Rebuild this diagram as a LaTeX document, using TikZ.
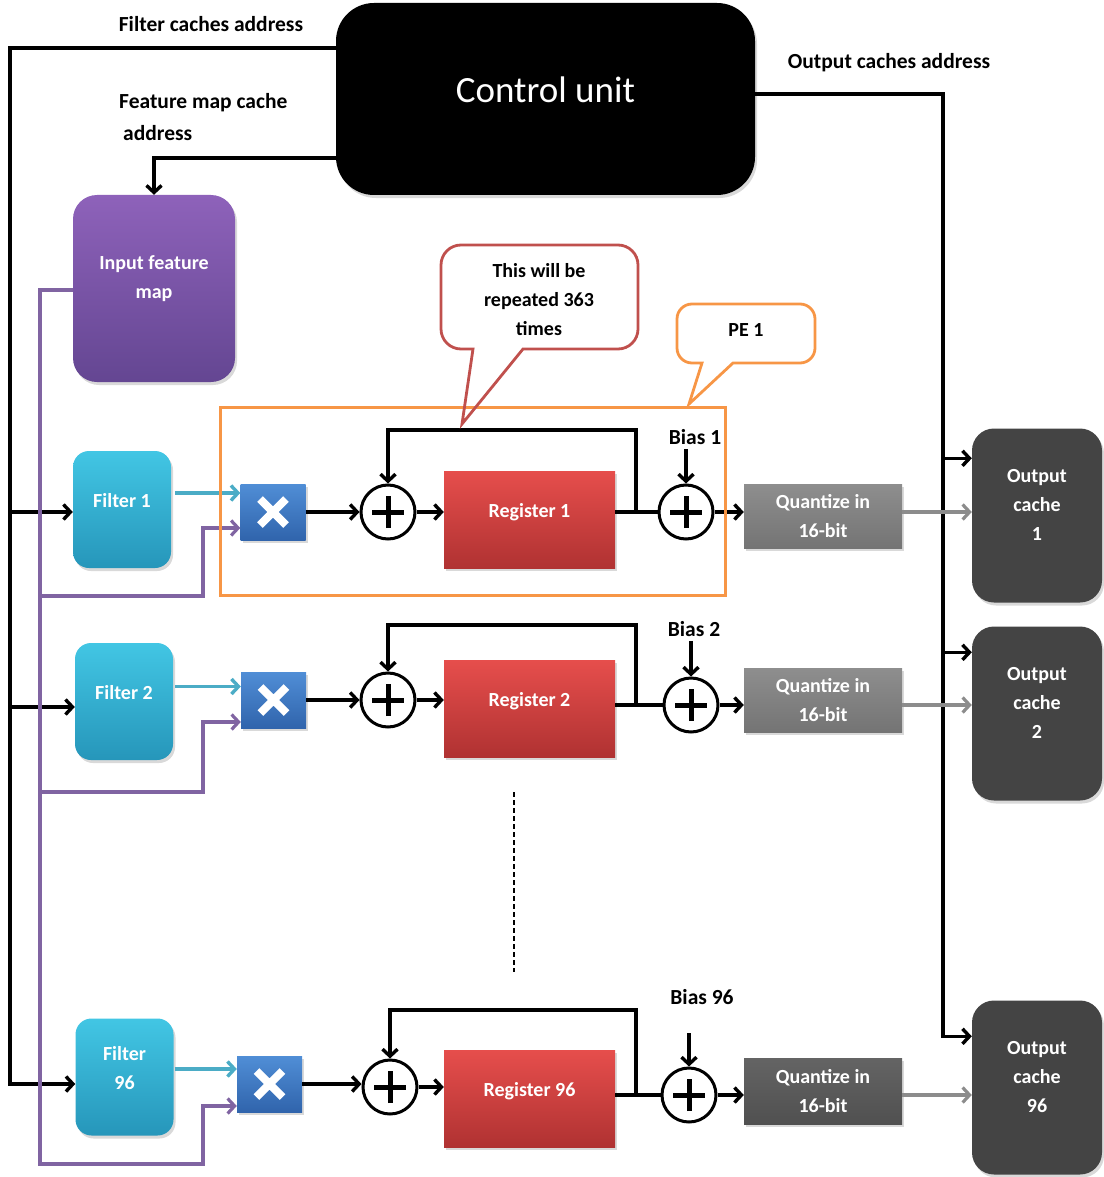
\documentclass[tikz,border=0pt]{standalone}
\usepackage{fontspec}
\setmainfont{Carlito}
\usetikzlibrary{arrows.meta,calc,shadows}

\definecolor{wirepurple}{RGB}{128,100,162}
\definecolor{wirecyan}{RGB}{75,172,198}
\definecolor{wiregray}{RGB}{140,140,140}
\definecolor{peorange}{RGB}{247,150,70}
\definecolor{callred}{RGB}{192,80,77}

\tikzset{
  shad/.style={drop shadow={opacity=0.3,shadow xshift=2pt,shadow yshift=-3pt}},
  txt/.style={font=\bfseries\fontsize{20}{29}\selectfont, text=white, align=center},
  lbl/.style={font=\bfseries\fontsize{21.5}{32}\selectfont, text=black, align=left, inner sep=0pt},
  cubox/.style={shad, fill=black, rounded corners=38pt, minimum width=419pt, minimum height=192pt,
    font=\fontsize{37}{44}\selectfont, text=white, text depth=18pt},
  ifmbox/.style={txt, shad, rounded corners=24pt, top color={rgb,255:red,142;green,98;blue,186},
    bottom color={rgb,255:red,100;green,70;blue,146}, minimum width=162pt, minimum height=187pt, text depth=22pt},
  filterbox/.style={txt, shad, rounded corners=16pt, top color={rgb,255:red,66;green,198;blue,228},
    bottom color={rgb,255:red,38;green,150;blue,186}, minimum width=98pt, minimum height=117pt, text depth=18pt},
  multbox/.style={shad, top color={rgb,255:red,80;green,142;blue,214}, bottom color={rgb,255:red,48;green,100;blue,172},
    minimum width=65pt, minimum height=56pt, inner sep=0pt,
    path picture={\draw[white, line width=8pt]
      ($(path picture bounding box.center)+(-13pt,-13pt)$) -- ($(path picture bounding box.center)+(13pt,13pt)$)
      ($(path picture bounding box.center)+(-13pt,13pt)$) -- ($(path picture bounding box.center)+(13pt,-13pt)$);}},
  adder/.style={circle, draw=black, line width=3pt, fill=white, minimum size=54pt, inner sep=0pt,
    path picture={\draw[black, line width=5pt]
      ($(path picture bounding box.center)+(-16pt,0pt)$) -- ($(path picture bounding box.center)+(16pt,0pt)$)
      ($(path picture bounding box.center)+(0pt,-16pt)$) -- ($(path picture bounding box.center)+(0pt,16pt)$);}},
  regbox/.style={txt, shad, top color={rgb,255:red,230;green,78;blue,76}, bottom color={rgb,255:red,176;green,50;blue,50},
    minimum width=171pt, minimum height=97pt, text depth=18pt},
  quantbox/.style={txt, shad, top color={rgb,255:red,142;green,142;blue,142}, bottom color={rgb,255:red,116;green,116;blue,116},
    minimum width=158pt, minimum height=64pt},
  quantdark/.style={txt, shad, top color={rgb,255:red,100;green,100;blue,100}, bottom color={rgb,255:red,80;green,80;blue,80},
    minimum width=158pt, minimum height=66pt},
  cachebox/.style={txt, shad, rounded corners=22pt, fill={rgb,255:red,68;green,68;blue,68},
    minimum width=130pt, minimum height=174pt, text depth=22pt},
  wire/.style={line width=3.4pt, black},
  tip/.style={-{Straight Barb[length=7pt,width=15pt]}},
  arr/.style={wire, tip},
  parr/.style={line width=3.2pt, wirepurple, tip},
  carr/.style={line width=3.4pt, wirecyan, tip},
  garr/.style={line width=3.2pt, wiregray, tip},
  calltxt/.style={font=\bfseries\fontsize{20}{29}\selectfont, text=black, align=center},
}

\begin{document}
\begin{tikzpicture}[x=1pt,y=-1pt]
\useasboundingbox (0,0) rectangle (1103,1177);

% ---------- control unit and address labels ----------
\node[cubox] (cu) at (545.5,99) {Control unit};
\node[lbl] (lfc) at (211,24) {Filter caches address};
\node[lbl, anchor=west] (lfm) at (119,117) {Feature map cache\\\hspace{4pt}address};
\node[lbl] (loc) at (889,63) {Output caches address};

% ---------- input feature map ----------
\node[ifmbox] (ifm) at (154,288.5) {Input feature\\map};

% ---------- row 1 ----------
\node[filterbox] (f1) at (122,509.5) {Filter 1};
\node[multbox] (m1) at (273,512) {};
\node[adder] (a1) at (388,512) {};
\node[regbox] (r1) at (529.5,519.5) {Register 1};
\node[adder] (b1) at (686,512) {};
\node[lbl] (bl1) at (695,437) {Bias 1};
\node[quantbox] (q1) at (823,516) {Quantize in\\16-bit};
\node[cachebox] (c1) at (1037,515.5) {Output\\cache\\1};

% ---------- row 2 ----------
\node[filterbox] (f2) at (124,701.5) {Filter 2};
\node[multbox] (m2) at (273.5,700) {};
\node[adder] (a2) at (388,700) {};
\node[regbox] (r2) at (529.5,708.5) {Register 2};
\node[adder] (b2) at (691,705) {};
\node[lbl] (bl2) at (694,629) {Bias 2};
\node[quantbox] (q2) at (823,700) {Quantize in\\16-bit};
\node[cachebox] (c2) at (1037,713.5) {Output\\cache\\2};

% ---------- row 96 ----------
\node[filterbox] (f96) at (124.5,1077) {Filter\\96};
\node[multbox] (m96) at (269.5,1084) {};
\node[adder] (a96) at (390,1087) {};
\node[regbox] (r96) at (529.5,1098.5) {Register 96};
\node[adder] (b96) at (689,1095) {};
\node[lbl] (bl96) at (702,997) {Bias 96};
\node[quantdark] (q96) at (823,1091) {Quantize in\\16-bit};
\node[cachebox] (c96) at (1037,1087.5) {Output\\cache\\96};

% ---------- filter cache address bus ----------
\coordinate (fcL) at (10,48);
\coordinate (f1in) at ($(f1.west)+(0,2.5)$);
\coordinate (f2in) at ($(f2.west)+(0,5.5)$);
\coordinate (f96in) at ($(f96.west)+(0,7)$);
\draw[arr] (cu.west |- fcL) -- (fcL) |- (f96in);
\draw[arr] (fcL |- f1in) -- (f1in);
\draw[arr] (fcL |- f2in) -- (f2in);

% ---------- feature map cache address ----------
\draw[arr] ($(cu.south west)+(0,-37)$) -| (ifm.north);

% ---------- output cache address bus ----------
\coordinate (ocR) at (943,94);
\coordinate (c1in) at ($(c1.north west)+(0,30)$);
\coordinate (c2in) at ($(c2.north west)+(0,26)$);
\coordinate (c96in) at ($(c96.north west)+(0,36)$);
\draw[arr] (cu.east |- ocR) -- (ocR) |- (c96in);
\draw[arr] (ocR |- c1in) -- (c1in);
\draw[arr] (ocR |- c2in) -- (c2in);

% ---------- feature map bus ----------
\coordinate (pL) at (40,290);
\coordinate (pk1) at (203,596);
\coordinate (pk2) at (203,792);
\coordinate (pk96) at (203,1164);
\coordinate (m1in) at ($(m1.west)+(0,16)$);
\coordinate (m2in) at ($(m2.west)+(0,22)$);
\coordinate (m96in) at ($(m96.west)+(0,22)$);
\draw[parr] (ifm.west |- pL) -- (pL) -- (pL |- pk96) -- (pk96) |- (m96in);
\draw[parr] (pL |- pk1) -- (pk1) |- (m1in);
\draw[parr] (pL |- pk2) -- (pk2) |- (m2in);

% ---------- filter outputs ----------
\coordinate (f1out) at ($(f1.east)+(4,-16.5)$);
\coordinate (f2out) at ($(f2.east)+(2,-15)$);
\coordinate (f96out) at ($(f96.east)+(1,-8)$);
\draw[carr] (f1out) -- (f1out -| m1.west);
\draw[carr] (f2out) -- (f2out -| m2.west);
\draw[carr] (f96out) -- (f96out -| m96.west);

% ---------- datapath, row 1 ----------
\coordinate (fb1) at (636,430);
\draw[arr] (m1.east) -- (a1.west);
\draw[arr] (a1.east) -- (a1.east -| r1.west);
\draw[wire] (a1.east -| r1.east) -- (b1.west);
\draw[arr] (fb1 |- b1.west) -- (fb1) -| (a1.north);
\draw[arr] (b1.east) -- (b1.east -| q1.west);
\draw[garr] (q1.east |- b1) -- (c1.west |- b1);
\draw[arr] (b1.north |- bl1.south) ++(0,4) -- (b1.north);

% ---------- datapath, row 2 ----------
\coordinate (fb2) at (636,625);
\draw[arr] (m2.east) -- (a2.west);
\draw[arr] (a2.east) -- (a2.east -| r2.west);
\draw[wire] (r2.east |- b2) -- (b2.west);
\draw[arr] (fb2 |- b2.west) -- (fb2) -| (a2.north);
\draw[arr] (b2.east) -- (b2.east -| q2.west);
\draw[garr] (q2.east |- b2) -- (c2.west |- b2);
\draw[arr] (b2.north |- bl2.south) ++(0,4) -- (b2.north);

% ---------- datapath, row 96 ----------
\coordinate (fb96) at (636,1010);
\coordinate (bt96) at (686,1033);
\draw[arr] (m96.east) -- (m96.east -| a96.west);
\draw[arr] (a96.east) -- (a96.east -| r96.west);
\draw[wire] (r96.east |- b96) -- (b96.west);
\draw[arr] (fb96 |- b96.west) -- (fb96) -| (a96.north);
\draw[arr] (b96.east) -- (b96.east -| q96.west);
\draw[garr] (q96.east |- b96) -- (c96.west |- b96);
\draw[arr] (b96.north |- bt96) -- (b96.north);

% ---------- rows in between ----------
\coordinate (dtop) at (514,792);
\coordinate (dbot) at (514,972);
\draw[black, line width=1.6pt, dash pattern=on 5pt off 3pt] (dtop) -- (dbot);

% ---------- processing element frame ----------
\node[draw=peorange, line width=3pt, minimum width=505pt, minimum height=188pt, inner sep=0pt] (pe) at (472.5,501) {};

% ---------- callouts ----------
\draw[callred, line width=2.8pt]
  (462,424) -- (523,349) [rounded corners=20pt] -- (638,349) -- (638,245) -- (441,245) -- (441,349) [sharp corners] -- (473,349) -- cycle;
\node[calltxt] (rep) at (539,300) {This will be\\repeated 363\\times};

\draw[peorange, line width=2.8pt]
  (689,404) -- (733,363) [rounded corners=15pt] -- (815,363) -- (815,304) -- (677,304) -- (677,363) [sharp corners] -- (702,363) -- cycle;
\node[calltxt] (pel) at (746,330) {PE 1};

\end{tikzpicture}
\end{document}
